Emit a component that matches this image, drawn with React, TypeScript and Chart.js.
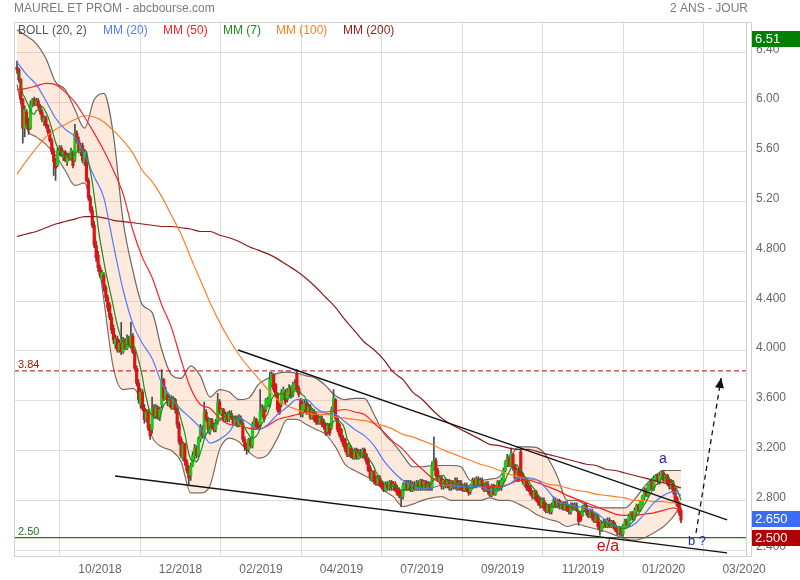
import React, { useEffect, useRef } from "react";
import { Chart, registerables } from "chart.js";

Chart.register(...registerables);

const TITLE = "MAUREL ET PROM - abcbourse.com";
const PERIOD = "2 ANS - JOUR";
const FONT = "'Liberation Sans', Arial, Helvetica, sans-serif";

const X_TICKS = [43.0, 84.7, 126.4, 168.1, 209.8, 251.6, 293.3, 335.0, 376.7];
const X_LABELS = ["10/2018", "12/2018", "02/2019", "04/2019", "07/2019", "09/2019", "11/2019", "01/2020", "03/2020"];
const Y_TICKS = [2.4, 2.8, 3.2, 3.6, 4.0, 4.4, 4.8, 5.2, 5.6, 6.0, 6.4];
const X_MIN = -1.55;
const X_MAX = 377.7;
const Y_MIN = 2.353;
const Y_MAX = 6.643;

// daily candles [open, high, low, close] in euro cents
const CANDLES: number[][] = [
[628,633,623,626],[626,627,616,618],[618,619,599,602],[602,603,567,579],[579,597,572,594],
[592,594,579,582],[584,587,574,578],[579,601,578,598],[598,603,596,602],[602,604,597,598],
[598,603,597,601],[601,603,595,597],[597,598,590,592],[592,594,584,586],[584,589,581,587],
[587,589,579,581],[581,582,574,576],[576,578,568,569],[569,571,558,560],[561,563,541,552],
[553,555,537,547],[549,563,548,561],[560,565,557,563],[563,565,556,557],[556,561,553,560],
[560,561,552,553],[552,559,549,557],[557,559,553,555],[555,563,553,561],[560,561,547,549],
[553,582,552,575],[575,577,567,569],[569,572,559,561],[560,567,557,565],[565,567,551,553],
[552,562,549,560],[557,560,536,537],[537,539,521,523],[523,525,511,513],[513,516,499,501],
[501,504,483,485],[485,488,472,475],[477,480,464,467],[467,469,459,461],[457,465,455,463],
[461,463,448,451],[451,453,440,443],[443,445,432,435],[437,439,425,427],[427,430,414,417],
[418,421,406,409],[405,413,402,410],[410,412,399,401],[401,409,399,406],[406,423,397,399],
[399,411,398,409],[409,410,401,402],[402,413,401,410],[410,412,403,405],[404,423,402,412],
[412,414,398,399],[399,401,385,386],[386,388,372,374],[374,377,358,361],[357,370,354,367],
[367,369,352,354],[354,357,342,345],[345,353,343,351],[351,353,336,338],[338,341,329,332],
[337,363,334,354],[354,357,346,348],[348,357,346,354],[354,356,345,346],[346,355,344,353],
[357,385,354,377],[377,378,360,362],[362,371,361,369],[365,367,356,358],[357,365,355,362],
[362,364,353,354],[354,363,353,361],[361,362,350,353],[353,354,338,341],[341,343,325,327],
[329,331,314,316],[314,327,312,325],[325,326,308,311],[311,313,302,304],[306,308,293,298],
[300,310,296,308],[308,319,307,316],[315,325,313,322],[322,324,314,316],[316,331,315,329],
[329,341,327,338],[338,340,330,332],[332,359,330,351],[351,353,343,345],[345,347,334,337],
[335,346,333,345],[345,346,337,338],[341,342,335,337],[337,345,335,343],[343,366,341,359],
[359,361,349,351],[349,354,348,353],[353,354,343,345],[345,351,343,349],[349,351,343,345],
[345,352,343,350],[350,352,345,346],[346,348,340,341],[341,348,340,346],[346,348,339,341],
[341,349,339,346],[346,348,341,342],[342,344,327,329],[329,331,320,323],[325,326,317,321],
[321,330,319,329],[329,330,322,324],[324,343,322,341],[338,347,337,345],[345,346,337,339],
[341,343,337,338],[341,369,339,351],[349,357,347,354],[354,356,343,345],[353,362,351,361],
[357,363,355,361],[357,383,355,377],[373,383,371,381],[381,382,367,369],[373,374,363,365],
[365,366,351,353],[357,358,349,350],[357,369,355,367],[362,371,361,369],[367,369,357,359],
[361,370,359,367],[365,373,363,370],[370,372,362,364],[365,375,363,373],[370,377,369,374],
[382,385,367,369],[370,372,363,365],[361,362,347,349],[349,360,347,357],[353,361,351,358],
[358,360,349,350],[350,357,349,355],[355,357,345,346],[346,354,345,353],[351,353,343,345],
[349,350,341,343],[346,348,341,342],[342,348,341,346],[346,348,339,341],[343,345,337,339],
[341,342,332,334],[335,342,333,341],[341,342,332,334],[338,355,337,353],[353,369,351,362],
[361,362,345,346],[346,348,335,337],[341,342,331,333],[337,338,327,329],[330,332,323,325],
[329,330,319,321],[325,326,315,317],[317,326,315,325],[322,324,314,316],[319,321,313,314],
[314,322,313,321],[321,322,313,314],[314,321,313,319],[319,321,314,316],[316,322,314,321],
[321,322,313,315],[317,318,309,311],[312,314,303,304],[306,308,296,298],[296,304,295,303],
[303,304,293,295],[298,300,292,293],[293,300,292,298],[298,300,291,292],[295,296,289,291],
[292,294,287,288],[288,295,287,293],[293,295,288,290],[290,296,288,295],[295,296,288,290],
[290,295,288,293],[293,295,287,288],[290,292,284,285],[288,290,282,284],[287,288,275,283],
[283,294,281,292],[290,296,288,295],[295,296,288,290],[290,296,288,294],[294,296,287,288],
[288,295,287,293],[293,295,288,289],[289,296,288,294],[294,296,288,290],[290,297,288,296],
[296,297,288,289],[289,296,288,295],[295,296,288,290],[290,295,288,293],[293,295,288,289],
[290,311,288,308],[306,331,304,312],[312,314,299,300],[304,306,295,296],[295,300,293,298],
[298,300,289,291],[291,297,289,296],[296,297,290,292],[292,297,290,296],[296,297,288,290],
[290,296,288,295],[295,296,289,291],[291,298,289,296],[296,298,288,290],[290,296,288,294],
[294,296,288,289],[292,293,287,288],[288,294,287,292],[292,294,287,288],[290,292,284,286],
[287,293,285,292],[291,298,289,296],[296,298,290,292],[292,299,290,297],[297,299,291,292],
[292,298,291,296],[296,298,289,291],[292,294,287,288],[288,295,287,293],[293,295,285,287],
[288,290,283,284],[284,293,283,292],[292,293,284,285],[285,292,284,291],[288,296,287,295],
[295,296,288,290],[290,298,288,296],[295,306,293,304],[304,312,303,311],[308,317,307,314],
[314,316,307,308],[308,322,307,318],[317,318,304,306],[308,309,296,298],[296,306,295,304],
[304,306,295,296],[319,322,299,300],[300,302,293,295],[292,298,291,296],[296,298,288,290],
[292,294,287,288],[290,292,284,285],[287,288,281,283],[283,288,281,287],[287,288,279,280],
[282,284,276,278],[280,282,274,276],[276,282,274,280],[280,282,272,274],[276,278,270,271],
[271,277,270,276],[276,277,269,271],[271,278,269,276],[276,283,274,280],[280,282,274,276],
[276,281,274,280],[280,281,273,275],[275,279,273,278],[278,279,272,273],[273,279,272,277],
[277,279,271,272],[275,276,269,271],[271,278,269,276],[276,278,272,273],[273,278,272,276],
[276,278,271,272],[271,272,260,263],[268,270,263,264],[268,276,267,275],[272,278,271,276],
[276,278,268,270],[271,272,266,267],[267,273,266,271],[271,273,264,266],[267,269,262,263],
[263,269,262,267],[267,269,257,259],[261,263,252,256],[256,263,255,261],[259,265,258,263],
[263,265,258,259],[259,266,258,264],[264,266,258,259],[259,264,258,263],[263,264,257,259],
[260,262,255,256],[258,259,252,254],[254,259,252,258],[258,259,251,253],[253,261,251,259],
[258,265,257,263],[263,265,259,260],[260,269,259,267],[266,271,264,270],[270,271,264,266],
[266,274,264,272],[271,277,269,276],[276,277,271,272],[272,280,271,279],[277,284,276,283],
[282,290,280,288],[288,290,283,284],[284,293,283,292],[290,296,288,295],[295,296,288,290],
[290,300,288,298],[296,301,295,300],[300,301,293,295],[295,302,293,300],[299,304,297,302],
[302,304,295,296],[296,301,295,300],[300,301,292,294],[296,298,289,291],[291,296,289,294],
[294,296,285,287],[288,290,279,280],[282,283,275,276],[278,279,268,270],[272,274,262,264]
];

// indicator values read every 5 sessions (last value = last session)
const LINE_STEP = 5;
const MM20 = [6.32,6.22,6.14,6.01,5.87,5.78,5.72,5.58,5.40,5.23,4.85,4.49,4.22,4.06,3.94,3.74,3.62,3.53,3.46,3.38,3.26,3.29,3.35,3.46,3.42,3.37,3.41,3.49,3.55,3.61,3.61,3.54,3.50,3.49,3.43,3.37,3.32,3.24,3.12,3.03,2.96,2.92,2.89,2.90,2.92,2.92,2.91,2.91,2.91,2.88,2.90,2.93,2.98,2.98,2.96,2.88,2.79,2.77,2.75,2.74,2.70,2.64,2.59,2.58,2.61,2.69,2.78,2.84,2.87,2.84];
const MM50 = [6.10,6.11,6.13,6.15,6.14,6.08,6.00,5.88,5.75,5.61,5.45,5.26,4.97,4.75,4.59,4.37,4.19,3.93,3.70,3.57,3.54,3.46,3.41,3.40,3.38,3.37,3.40,3.45,3.47,3.49,3.51,3.51,3.51,3.52,3.53,3.51,3.49,3.42,3.35,3.27,3.21,3.12,3.05,2.98,2.94,2.92,2.92,2.91,2.91,2.91,2.91,2.93,2.96,2.96,2.94,2.91,2.88,2.84,2.81,2.78,2.75,2.72,2.69,2.68,2.68,2.69,2.70,2.72,2.74,2.72];
const MM100 = [5.42,5.53,5.63,5.72,5.78,5.82,5.86,5.89,5.88,5.84,5.77,5.69,5.59,5.45,5.36,5.24,5.09,4.94,4.75,4.57,4.39,4.23,4.09,3.97,3.87,3.78,3.69,3.61,3.56,3.53,3.50,3.49,3.49,3.47,3.46,3.45,3.44,3.42,3.40,3.37,3.33,3.31,3.28,3.25,3.21,3.18,3.15,3.12,3.09,3.07,3.04,3.01,2.99,2.97,2.96,2.93,2.92,2.90,2.88,2.87,2.85,2.84,2.83,2.82,2.80,2.80,2.79,2.79,2.78,2.78];
const MM200 = [4.92,4.94,4.96,4.99,5.02,5.04,5.06,5.08,5.08,5.07,5.05,5.04,5.03,5.02,5.01,5.00,5.00,4.99,4.98,4.96,4.96,4.93,4.91,4.88,4.84,4.81,4.78,4.74,4.69,4.64,4.58,4.51,4.43,4.35,4.25,4.16,4.07,4.01,3.93,3.83,3.77,3.67,3.61,3.53,3.46,3.41,3.37,3.33,3.29,3.25,3.24,3.22,3.21,3.21,3.19,3.17,3.15,3.13,3.11,3.09,3.08,3.05,3.04,3.02,3.00,2.98,2.96,2.94,2.92,2.90];
const BOLL_UP = [6.58,6.53,6.47,6.35,6.16,6.10,5.94,5.79,6.02,6.07,5.73,5.04,4.65,4.37,4.31,4.01,3.81,3.78,3.88,3.80,3.63,3.69,3.67,3.61,3.62,3.73,3.78,3.82,3.83,3.82,3.80,3.78,3.72,3.64,3.61,3.62,3.62,3.49,3.34,3.26,3.16,3.07,3.07,3.08,3.08,3.08,3.07,2.96,2.96,2.97,2.99,3.13,3.23,3.23,3.22,3.14,2.99,2.80,2.80,2.76,2.74,2.74,2.74,2.74,2.81,2.91,2.99,3.04,3.04,3.04];
const BOLL_LOW = [6.14,5.79,5.72,5.66,5.57,5.45,5.33,5.35,4.97,4.41,3.86,3.69,3.70,3.58,3.31,3.23,3.20,3.11,2.86,2.86,2.92,3.21,3.30,3.27,3.19,3.14,3.17,3.30,3.45,3.45,3.41,3.37,3.33,3.23,3.09,3.04,3.00,2.96,2.88,2.83,2.75,2.77,2.80,2.82,2.83,2.80,2.80,2.80,2.80,2.82,2.80,2.80,2.77,2.73,2.68,2.65,2.63,2.59,2.61,2.59,2.57,2.55,2.52,2.49,2.48,2.50,2.54,2.59,2.67,2.76];
const MM7_PERIOD = 7;

// drawn annotations, in (session index, price)
const TREND_UPPER = [[114.5, 4.008], [367.9, 2.643]];
const TREND_LOWER = [[50.8, 2.996], [367.9, 2.378]];
const PROJECTION = [[351.8, 2.538], [364.8, 3.783]];
const RESISTANCE = 3.84;
const SUPPORT = 2.5;
const NOTE_TEXTS = ["a", "b ?", "e/a"];
const NOTE_X = [334.7, 352.3, 306.2];
const NOTE_Y = [3.133, 2.474, 2.426];
const NOTE_COLORS = ["#28289a", "#28289a", "#d01010"];
const NOTE_SIZES = [14, 13, 16];

const MARKER_VALUES = [6.51, 2.65, 2.5];
const MARKER_TEXTS = ["6.51", "2.650", "2.500"];
const MARKER_COLORS = ["#008000", "#3a6cf4", "#b00000"];

const LEGEND_TEXTS = ["BOLL (20, 2)", "MM (20)", "MM (50)", "MM (7)", "MM (100)", "MM (200)"];
const LEGEND_X = [18, 103, 163, 223, 276, 343];

const UP = "#1ec81e";
const DOWN = "#e01212";
const WICK = "#4a4a4a";
const BAND_EDGE = "#6e6560";
const BAND_FILL = "rgba(248,170,120,0.25)";
const C7 = "#1e8c1e";
const C20 = "#4f7cff";
const C50 = "#ff2222";
const C100 = "#ff7f27";
const C200 = "#8e1b1b";
const LEGEND_COLORS = ["#555555", C20, C50, C7, C100, C200];
const GRID = "#dddddd";
const FRAME = "#d0d0d0";

const overlay = {
  id: "overlay",
  afterDraw(chart: any) {
    const { ctx, chartArea: a } = chart;
    const xs = chart.scales.x;
    const ys = chart.scales.y;
    const px = (v: number) => xs.getPixelForValue(v);
    const py = (v: number) => ys.getPixelForValue(v);
    ctx.save();
    ctx.strokeStyle = FRAME;
    ctx.lineWidth = 1;
    ctx.beginPath();
    ctx.moveTo(a.left + 0.5, a.bottom + 0.5);
    ctx.lineTo(a.left + 0.5, a.top + 0.5);
    ctx.lineTo(a.right + 5.5, a.top + 0.5);
    ctx.lineTo(a.right + 5.5, a.bottom + 0.5);
    ctx.lineTo(a.left, a.bottom + 0.5);
    ctx.stroke();

    ctx.textBaseline = "middle";
    ctx.font = `12px ${FONT}`;
    ctx.fillStyle = "#7a7a7a";
    ctx.textAlign = "left";
    ctx.fillText(TITLE, 14, 9);
    ctx.textAlign = "right";
    ctx.fillText(PERIOD, 748, 9);

    ctx.textAlign = "left";
    LEGEND_TEXTS.forEach((t, k) => {
      ctx.fillStyle = LEGEND_COLORS[k];
      ctx.fillText(t, LEGEND_X[k], 30.5);
    });

    ctx.font = `11px ${FONT}`;
    ctx.fillStyle = "#cc0000";
    ctx.fillText(RESISTANCE.toFixed(2), a.left + 4, py(RESISTANCE) - 6);
    ctx.fillStyle = "#1a7a1a";
    ctx.fillText(SUPPORT.toFixed(2), a.left + 4, py(SUPPORT) - 6);

    ctx.textAlign = "center";
    NOTE_TEXTS.forEach((t, k) => {
      ctx.font = `${NOTE_SIZES[k]}px ${FONT}`;
      ctx.fillStyle = NOTE_COLORS[k];
      ctx.fillText(t, px(NOTE_X[k]), py(NOTE_Y[k]));
    });

    const x0 = px(PROJECTION[0][0]);
    const y0 = py(PROJECTION[0][1]);
    const x1 = px(PROJECTION[1][0]);
    const y1 = py(PROJECTION[1][1]);
    const ang = Math.atan2(y1 - y0, x1 - x0);
    const L = 10, W = 4.5;
    ctx.fillStyle = "#111";
    ctx.beginPath();
    ctx.moveTo(x1, y1);
    ctx.lineTo(x1 - L * Math.cos(ang) + W * Math.sin(ang), y1 - L * Math.sin(ang) - W * Math.cos(ang));
    ctx.lineTo(x1 - L * Math.cos(ang) - W * Math.sin(ang), y1 - L * Math.sin(ang) + W * Math.cos(ang));
    ctx.closePath();
    ctx.fill();

    ctx.textAlign = "left";
    ctx.font = `13px ${FONT}`;
    MARKER_VALUES.forEach((v, k) => {
      const y = Math.round(py(v));
      ctx.fillStyle = MARKER_COLORS[k];
      ctx.fillRect(a.right + 6, y - 8, 48, 16);
      ctx.fillStyle = "#ffffff";
      ctx.fillText(MARKER_TEXTS[k], a.right + 9, y + 0.5);
    });
    ctx.restore();
  },
};

export default function App() {
  const ref = useRef<HTMLCanvasElement>(null);
  useEffect(() => {
    if (!ref.current) return;
    Chart.defaults.font.family = FONT;
    const last = CANDLES.length - 1;
    const bodies = CANDLES.map((c, i) => ({ x: i, y: [c[0] / 100, c[3] / 100] }));
    const wicks = CANDLES.map((c, i) => ({ x: i, y: [c[2] / 100, c[1] / 100] }));
    const bodyColors = CANDLES.map((c) => (c[3] >= c[0] ? UP : DOWN));
    const closes = CANDLES.map((c) => c[3] / 100);
    const mm7 = closes.map((_, i) => {
      const w = closes.slice(Math.max(0, i - MM7_PERIOD + 1), i + 1);
      return { x: i, y: w.reduce((s, v) => s + v, 0) / w.length };
    });
    const sparse = (vals: number[]) => vals.map((v, k) => ({ x: Math.min(k * LINE_STEP, last), y: v }));
    const pts = (arr: number[][]) => arr.map((p) => ({ x: p[0], y: p[1] }));
    const lineDs = (label: string, data: any[], color: string, order: number, extra: any = {}) => ({
      type: "line",
      label,
      data,
      borderColor: color,
      borderWidth: 1.2,
      pointRadius: 0,
      fill: false,
      order,
      cubicInterpolationMode: "monotone",
      ...extra,
    });

    const chart = new Chart(ref.current, {
      type: "line",
      data: {
        datasets: [
          lineDs("bollUp", sparse(BOLL_UP), BAND_EDGE, 9, { fill: "+1", backgroundColor: BAND_FILL }),
          lineDs("bollLow", sparse(BOLL_LOW), BAND_EDGE, 10),
          { type: "bar", label: "wicks", data: wicks, backgroundColor: WICK, barThickness: 1, grouped: false, borderWidth: 0, order: 8 },
          { type: "bar", label: "bodies", data: bodies, backgroundColor: bodyColors, barThickness: 2.5, grouped: false, borderWidth: 0, minBarLength: 1, order: 7 },
          lineDs("MM200", sparse(MM200), C200, 6),
          lineDs("MM100", sparse(MM100), C100, 5),
          lineDs("MM50", sparse(MM50), C50, 4),
          lineDs("MM20", sparse(MM20), C20, 3),
          lineDs("MM7", mm7, C7, 2, { cubicInterpolationMode: "default", tension: 0 }),
          lineDs("res", pts([[X_MIN, RESISTANCE], [X_MAX, RESISTANCE]]), "#cc0000", 1, { borderDash: [5, 3], tension: 0, borderWidth: 1 }),
          lineDs("sup", pts([[X_MIN, SUPPORT], [X_MAX, SUPPORT]]), "#1a7a1a", 1, { tension: 0, borderWidth: 1.2 }),
          lineDs("trendUp", pts(TREND_UPPER), "#111111", 0, { tension: 0, borderWidth: 1.4 }),
          lineDs("trendLow", pts(TREND_LOWER), "#111111", 0, { tension: 0, borderWidth: 1.4 }),
          lineDs("proj", pts(PROJECTION), "#111111", 0, { tension: 0, borderWidth: 1.3, borderDash: [5, 4] }),
        ] as any,
      },
      options: {
        responsive: false,
        animation: false,
        devicePixelRatio: 1,
        events: [],
        layout: { padding: { left: 14, top: 22, right: 0, bottom: 0 } },
        plugins: { legend: { display: false }, tooltip: { enabled: false } },
        scales: {
          x: {
            type: "linear",
            min: X_MIN,
            max: X_MAX,
            offset: false,
            afterBuildTicks: (s: any) => {
              s.ticks = X_TICKS.map((v) => ({ value: v }));
            },
            afterFit: (s: any) => {
              s.height = 24;
            },
            grid: { color: GRID, drawTicks: false },
            border: { color: FRAME },
            ticks: {
              autoSkip: false,
              maxRotation: 0,
              padding: 6,
              color: "#666",
              font: { size: 12 },
              callback: (_v: any, i: number) => X_LABELS[i] ?? "",
            },
          },
          y: {
            type: "linear",
            position: "right",
            min: Y_MIN,
            max: Y_MAX,
            afterBuildTicks: (s: any) => {
              s.ticks = Y_TICKS.map((v) => ({ value: v }));
            },
            afterFit: (s: any) => {
              s.width = 54;
            },
            grid: { color: GRID, drawTicks: false },
            border: { color: FRAME },
            ticks: {
              padding: 10,
              labelOffset: -3,
              color: "#666",
              font: { size: 12 },
              callback: (v: any) => (Number(v) >= 5 ? Number(v).toFixed(2) : Number(v).toFixed(3)),
            },
          },
        },
      } as any,
      plugins: [overlay],
    });
    return () => chart.destroy();
  }, []);

  return (
    <div style={{ position: "absolute", left: 0, top: 0, width: 800, height: 580, background: "#fff" }}>
      <canvas ref={ref} width={800} height={580} style={{ display: "block" }} />
    </div>
  );
}
